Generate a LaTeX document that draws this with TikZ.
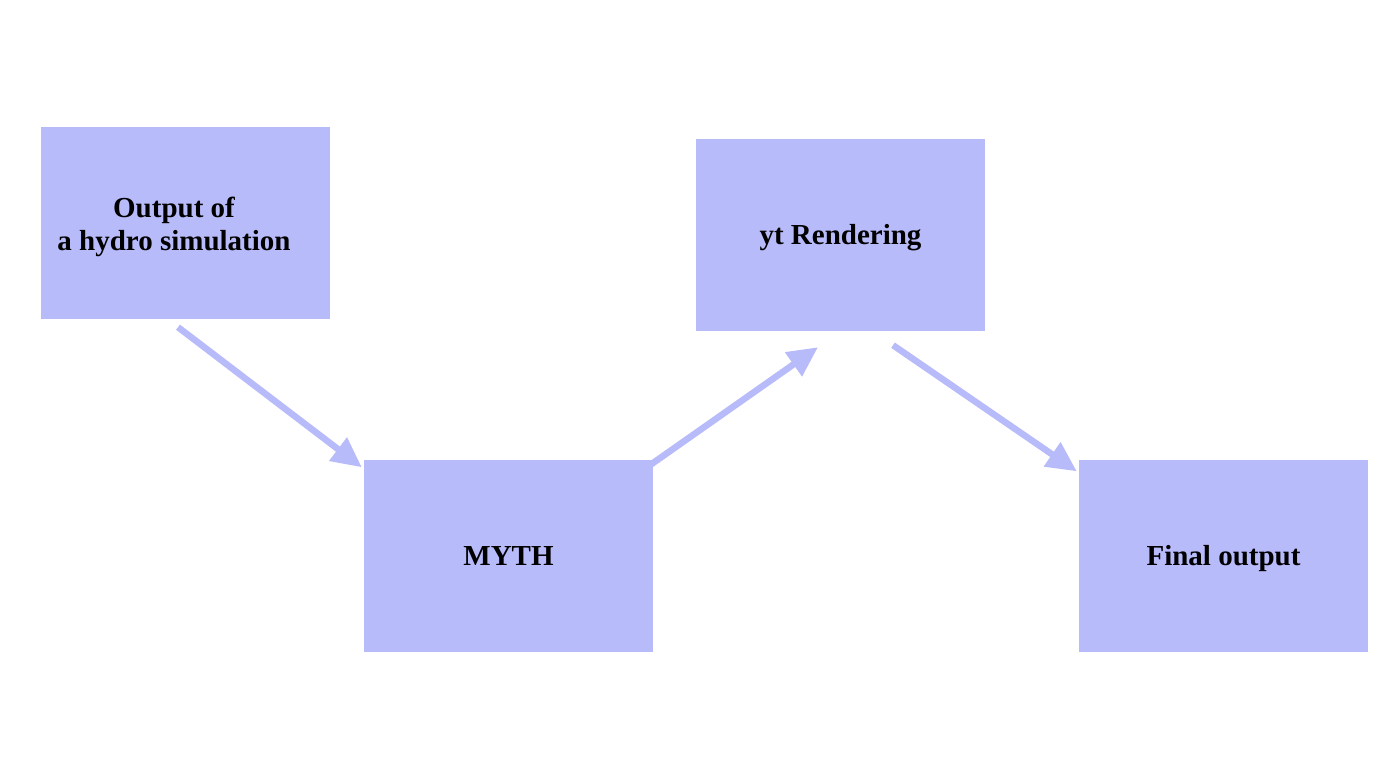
\documentclass[tikz,border=0pt]{standalone}
\usepackage{fontspec}
\setmainfont{Liberation Serif}
\usetikzlibrary{arrows.meta}
\definecolor{boxblue}{RGB}{184,187,250}
\tikzset{
  stage/.style={fill=boxblue,draw=none,minimum width=289pt,minimum height=192pt,inner sep=0pt,
    font=\fontsize{29}{33}\selectfont\bfseries,text height=19pt,text depth=0pt},
  flow/.style={draw=boxblue,line width=6.5pt,-{Triangle[length=30pt,width=28pt]}}
}

\begin{document}
\begin{tikzpicture}[x=1pt,y=1pt]
                \useasboundingbox (0,0) rectangle (1400,768);
                \node[stage,label={[fill=none,align=center,font=\fontsize{29}{33}\selectfont\bfseries,inner sep=0pt,xshift=-11.5pt,yshift=-4pt]center:Output of\\a hydro simulation}] (sim) at (185.5,545) {};
                \node[stage] (myth) at (508.5,211.5) {MYTH};
                \node[stage] (yt) at (840.5,533) {yt Rendering};
                \node[stage] (final) at (1223.5,211.5) {Final output};
                \draw[flow] ([shift={(-7.5,-8)}]sim.south) -- ([shift={(-2,-7)}]myth.north west);
                \draw[flow] ([shift={(-2,-4)}]myth.north east) -- ([shift={(-22.5,-16)}]yt.south);
                \draw[flow] ([shift={(52.5,-14)}]yt.south) -- ([shift={(-2,-11)}]final.north west);
            \end{tikzpicture}
\end{document}
